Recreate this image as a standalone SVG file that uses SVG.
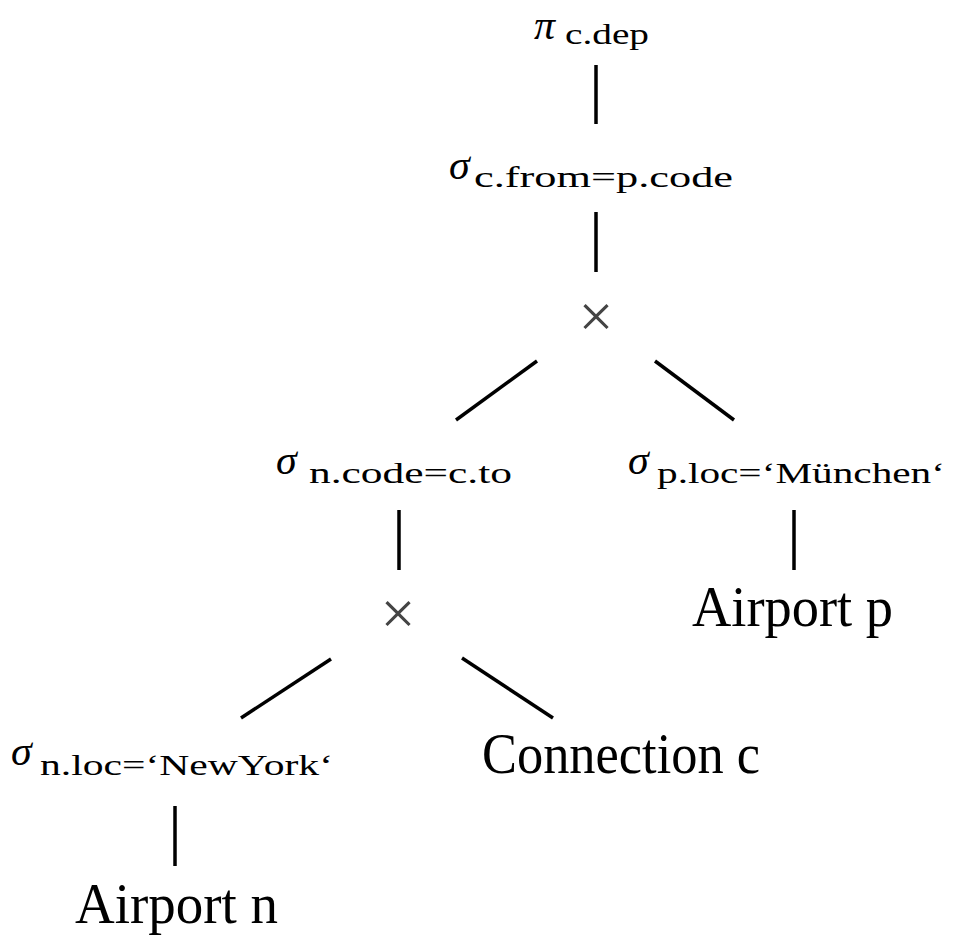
<svg xmlns="http://www.w3.org/2000/svg" width="956" height="938" viewBox="0 0 956 938">
  <style>
    .op { font-family: "Liberation Serif", "DejaVu Serif", serif; font-style: italic; font-size: 42px; fill: #000; }
    .sub { font-family: "Liberation Serif", "DejaVu Serif", serif; font-size: 30px; fill: #000; }
    .rel { font-family: "Liberation Serif", "DejaVu Serif", serif; font-size: 56px; fill: #000; }
    .x { font-family: "Liberation Serif", "DejaVu Serif", serif; font-size: 62px; fill: #444; text-anchor: middle; }
    .edge { stroke: #000; stroke-width: 3.5; fill: none; }
  </style>
  <rect width="956" height="938" fill="#fff"/>

  <!-- tree edges -->
  <g id="edges">
    <line class="edge" x1="596" y1="65" x2="596" y2="124"/>
    <line class="edge" x1="596" y1="212" x2="596" y2="272"/>
    <line class="edge" x1="537" y1="361" x2="456" y2="420"/>
    <line class="edge" x1="655" y1="361" x2="734" y2="420"/>
    <line class="edge" x1="399" y1="510" x2="399" y2="570"/>
    <line class="edge" x1="794" y1="510" x2="794" y2="570"/>
    <line class="edge" x1="331" y1="659" x2="241" y2="718"/>
    <line class="edge" x1="462" y1="658" x2="553" y2="718"/>
    <line class="edge" x1="175" y1="806" x2="175" y2="866"/>
  </g>

  <g id="proj">
    <text class="op" x="534" y="39">π</text>
    <text class="sub" x="565" y="44" textLength="84" lengthAdjust="spacingAndGlyphs">c.dep</text>
  </g>

  <g id="sel-from">
    <text class="op" x="449" y="179">σ</text>
    <text class="sub" x="474" y="187" textLength="259" lengthAdjust="spacingAndGlyphs">c.from=p.code</text>
  </g>

  <g id="cross-top">
    <text class="x" x="596" y="337">×</text>
  </g>

  <g id="sel-code">
    <text class="op" x="276" y="474">σ</text>
    <text class="sub" x="309" y="483" textLength="203" lengthAdjust="spacingAndGlyphs">n.code=c.to</text>
  </g>

  <g id="sel-muc">
    <text class="op" x="628" y="474">σ</text>
    <text class="sub" x="657" y="483" textLength="288" lengthAdjust="spacingAndGlyphs">p.loc=‘München‘</text>
  </g>

  <g id="cross-low">
    <text class="x" x="398" y="634">×</text>
  </g>

  <g id="airport-p">
    <text class="rel" x="692" y="626" textLength="201" lengthAdjust="spacingAndGlyphs">Airport p</text>
  </g>

  <g id="sel-ny">
    <text class="op" x="11" y="765">σ</text>
    <text class="sub" x="40" y="775" textLength="293" lengthAdjust="spacingAndGlyphs">n.loc=‘NewYork‘</text>
  </g>

  <g id="connection-c">
    <text class="rel" x="482" y="773" textLength="278" lengthAdjust="spacingAndGlyphs">Connection c</text>
  </g>

  <g id="airport-n">
    <text class="rel" x="75" y="923" textLength="203" lengthAdjust="spacingAndGlyphs">Airport n</text>
  </g>
</svg>
